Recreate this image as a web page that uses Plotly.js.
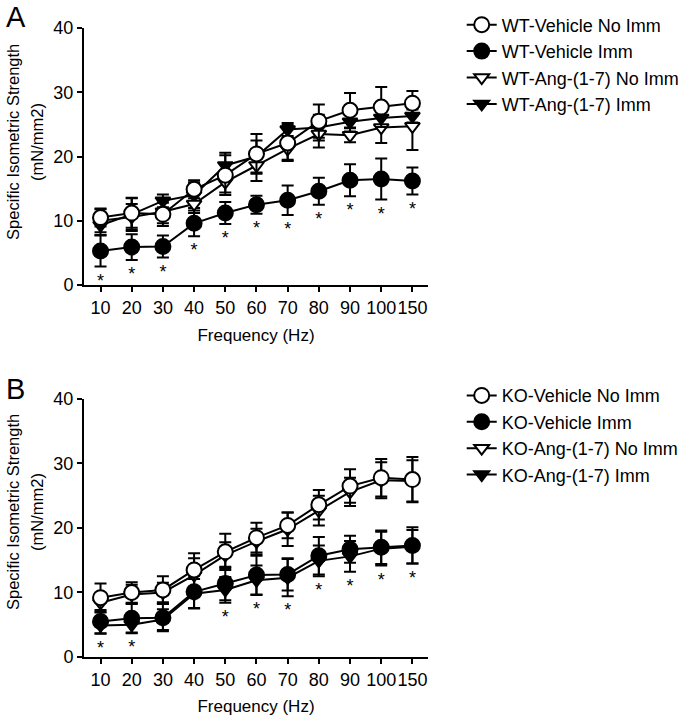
<!DOCTYPE html>
<html>
<head>
<meta charset="utf-8">
<script src="https://cdn.plot.ly/plotly-3.0.1.min.js"></script>
<style>html,body{margin:0;padding:0;background:#fff;}#chart{width:683px;height:724px;}</style>
</head>
<body>
<div id="chart"></div>
<script>
// ---- data ----
const freqLabels = ["10","20","30","40","50","60","70","80","90","100","150"];

const wtVehNoImm = [10.5, 11.2, 11.0, 14.9, 17.1, 20.4, 22.1, 25.5, 27.2, 27.7, 28.3];
const wtVehNoImmErr = [1.4, 2.3, 1.8, 1.4, 3.1, 3.1, 2.8, 2.6, 2.7, 3.1, 1.9];
const wtVehImm = [5.3, 5.9, 6.0, 9.6, 11.2, 12.5, 13.2, 14.6, 16.3, 16.5, 16.2];
const wtVehImmErr = [2.4, 2.0, 1.7, 2.0, 1.7, 1.4, 2.3, 2.1, 2.5, 3.2, 2.1];
const wtAngNoImm = [10.0, 10.6, 11.4, 12.6, 16.0, 18.6, 21.2, 23.5, 23.3, 24.5, 24.7];
const wtAngNoImmErr = [1.8, 2.0, 1.8, 1.4, 1.6, 2.4, 1.7, 2.1, 1.1, 2.4, 3.7];
const wtAngImm = [9.3, 11.0, 13.1, 14.0, 18.6, 20.0, 24.2, 24.5, 25.4, 26.0, 26.3];
const wtAngImmErr = [1.5, 2.6, 1.0, 2.0, 2.0, 2.5, 1.0, 2.0, 1.5, 1.3, 1.0];
const wtSig = [1,1,1,1,1,1,1,1,1,1,1];

const koVehNoImm = [9.2, 10.0, 10.4, 13.5, 16.3, 18.5, 20.4, 23.6, 26.5, 27.8, 27.5];
const koVehNoImmErr = [2.2, 1.6, 2.1, 2.6, 2.8, 2.3, 2.0, 2.3, 2.6, 2.9, 3.5];
const koVehImm = [5.5, 6.0, 6.1, 10.1, 11.4, 12.7, 12.8, 15.7, 16.7, 17.0, 17.3];
const koVehImmErr = [1.8, 2.3, 2.1, 2.5, 2.6, 3.0, 2.5, 2.9, 2.1, 2.6, 2.8];
const koAngNoImm = [8.4, 9.7, 10.0, 12.7, 15.8, 17.9, 19.8, 22.7, 25.6, 27.4, 27.3];
const koAngNoImmErr = [1.5, 1.5, 1.5, 2.6, 2.0, 2.0, 2.6, 2.3, 2.2, 2.8, 3.2];
const koAngImm = [4.9, 5.0, 5.8, 9.8, 10.4, 11.9, 12.3, 14.9, 15.6, 16.8, 17.1];
const koAngImmErr = [1.3, 1.2, 1.6, 2.3, 2.0, 2.3, 2.9, 2.4, 2.4, 2.6, 2.6];
const koSig = [1,1,0,0,1,1,1,1,1,1,1];

// ---- styling ----
const FONT = "Liberation Sans, Arial, Helvetica, sans-serif";
function series(name, y, err, symbol, fill, xa, ya, leg, rank) {
  return {
    type: "scatter", mode: "lines+markers", name: name,
    x: freqLabels, y: y, xaxis: xa, yaxis: ya, legend: leg, legendrank: rank,
    line: {color: "black", width: 2},
    marker: {symbol: symbol, size: symbol.indexOf("circle") === 0 ? 15 : 13,
             color: fill, line: {color: "black", width: 2}},
    error_y: {type: "data", array: err, visible: true, color: "black", thickness: 2, width: 6},
    hoverinfo: "skip"
  };
}
function stars(sig, lowsA, lowsB, xa, ya) {
  const xs = [], ys = [], t = [];
  sig.forEach((s, i) => {
    if (s) { xs.push(freqLabels[i]); ys.push(Math.min(lowsA[i], lowsB ? lowsB[i] : Infinity)); t.push("*"); }
  });
  return {type: "scatter", mode: "markers+text", x: xs, y: ys, text: t, textposition: "bottom center",
          marker: {size: 9, opacity: 0, color: "white"},
          textfont: {family: FONT, size: 18, color: "black"}, xaxis: xa, yaxis: ya,
          showlegend: false, hoverinfo: "skip"};
}
const sub = (a, b) => a.map((v, i) => v - b[i]);

const data = [
  series("WT-Ang-(1-7) Imm", wtAngImm, wtAngImmErr, "triangle-down", "black", "x", "y", "legend", 4),
  series("WT-Ang-(1-7) No Imm", wtAngNoImm, wtAngNoImmErr, "triangle-down", "white", "x", "y", "legend", 3),
  series("WT-Vehicle Imm", wtVehImm, wtVehImmErr, "circle", "black", "x", "y", "legend", 2),
  series("WT-Vehicle No Imm", wtVehNoImm, wtVehNoImmErr, "circle", "white", "x", "y", "legend", 1),
  stars(wtSig, sub(wtVehImm, wtVehImmErr), null, "x", "y"),
  series("KO-Ang-(1-7) Imm", koAngImm, koAngImmErr, "triangle-down", "black", "x2", "y2", "legend2", 4),
  series("KO-Ang-(1-7) No Imm", koAngNoImm, koAngNoImmErr, "triangle-down", "white", "x2", "y2", "legend2", 3),
  series("KO-Vehicle Imm", koVehImm, koVehImmErr, "circle", "black", "x2", "y2", "legend2", 2),
  series("KO-Vehicle No Imm", koVehNoImm, koVehNoImmErr, "circle", "white", "x2", "y2", "legend2", 1),
  stars(koSig, sub(koVehImm, koVehImmErr), sub(koAngImm, koAngImmErr), "x2", "y2")
];

function xax(anchor) {
  return {type: "category", range: [-0.53, 10.5], anchor: anchor, domain: [0, 1],
          showline: true, linecolor: "black", linewidth: 2, ticks: "outside", ticklen: 5,
          tickwidth: 2, tickcolor: "black", showgrid: false, zeroline: false, tickangle: 0,
          tickfont: {family: FONT, size: 18, color: "black"},
          title: {text: "Frequency (Hz)", font: {family: FONT, size: 17, color: "black"}, standoff: 12}};
}
function yax(anchor, dom) {
  return {range: [0, 40], domain: dom, anchor: anchor, tickvals: [0, 10, 20, 30, 40],
          showline: true, linecolor: "black", linewidth: 2, ticks: "outside", ticklen: 5,
          tickwidth: 2, tickcolor: "black", showgrid: false, zeroline: false,
          tickfont: {family: FONT, size: 18, color: "black"}};
}
const legendStyle = {font: {family: FONT, size: 18, color: "black"}, xanchor: "left", yanchor: "top",
                     xref: "container", yref: "container",
                     bgcolor: "rgba(0,0,0,0)", tracegroupgap: 0, itemwidth: 30};

function ytitleAnn(line, x, y) {
  return {text: line, xref: "paper", yref: "paper", x: x, y: y, xanchor: "center", yanchor: "middle",
          textangle: -90, showarrow: false, font: {family: FONT, size: 16.5, color: "black"}};
}
const layout = {
  width: 683, height: 724, paper_bgcolor: "white", plot_bgcolor: "white",
  margin: {l: 84, r: 255, t: 28, b: 67},
  showlegend: true,
  xaxis: xax("y"), yaxis: yax("x", [0.5914, 1]),
  xaxis2: xax("y2"), yaxis2: yax("x2", [0, 0.4102]),
  legend: Object.assign({x: 0.676, y: 0.991}, legendStyle),
  legend2: Object.assign({x: 0.676, y: 0.479}, legendStyle),
  annotations: [
    {text: "A", xref: "paper", yref: "paper", x: -0.198, y: 1.018, xanchor: "center", yanchor: "middle",
     showarrow: false, font: {family: FONT, size: 29, color: "black"}},
    {text: "B", xref: "paper", yref: "paper", x: -0.198, y: 0.426, xanchor: "center", yanchor: "middle",
     showarrow: false, font: {family: FONT, size: 29, color: "black"}},
    ytitleAnn("Specific Isometric Strength", -0.2064, 0.8188),
    ytitleAnn("(mN/mm2)", -0.1366, 0.8188),
    ytitleAnn("Specific Isometric Strength", -0.2064, 0.2305),
    ytitleAnn("(mN/mm2)", -0.1366, 0.2305)
  ]
};
Plotly.newPlot("chart", data, layout, {displayModeBar: false, staticPlot: true});
</script>
</body>
</html>
